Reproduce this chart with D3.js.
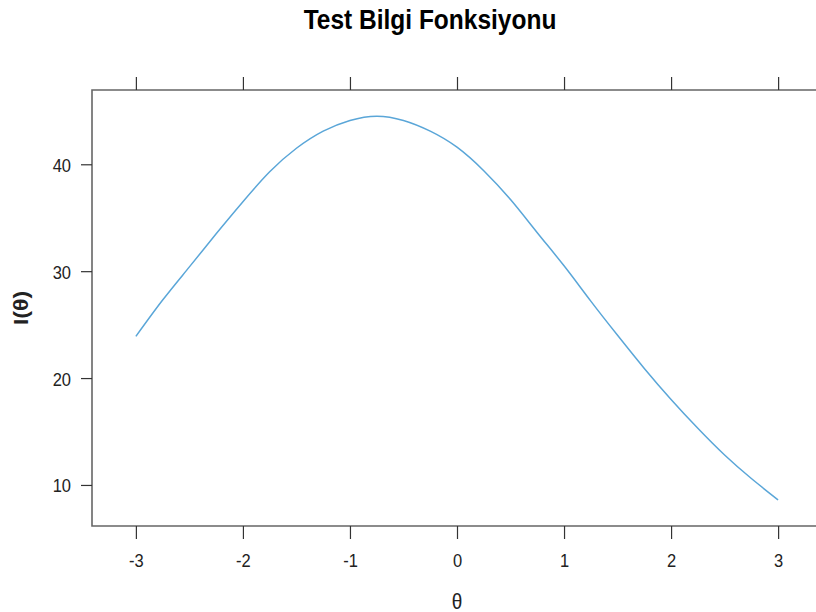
<!DOCTYPE html>
<html>
<head>
<meta charset="utf-8">
<script src="https://cdn.jsdelivr.net/npm/d3@7"></script>
<style>
  html, body { margin: 0; padding: 0; background: #fff; }
  svg { display: block; font-family: "Liberation Sans", Arial, sans-serif; }
</style>
</head>
<body>
<svg id="chart" width="816" height="612"></svg>
<script>
// ---- data ----
const theta = [-3, -2.75, -2.5, -2.25, -2, -1.75, -1.5, -1.25, -1, -0.75, -0.5, -0.25,
               0, 0.25, 0.5, 0.75, 1, 1.25, 1.5, 1.75, 2, 2.25, 2.5, 2.75, 3];
const info  = [23.9, 27.3, 30.4, 33.5, 36.5, 39.3, 41.5, 43.1, 44.1, 44.5, 44.1, 43.1,
               41.6, 39.4, 36.7, 33.6, 30.5, 27.2, 24.0, 20.9, 18.0, 15.3, 12.8, 10.6, 8.6];
const xTicks = [-3, -2, -1, 0, 1, 2, 3];
const yTicks = [10, 20, 30, 40];
const titleText = "Test Bilgi Fonksiyonu";
const xLabel = "θ";
const yLabel = "I(θ)";

// ---- layout ----
const L = 92, R = 822, T = 90, B = 526;
const svg = d3.select("#chart");

const x = d3.scaleLinear().domain([-3.41, 3.41]).range([L, R]);
const y = d3.scaleLinear().domain([6.16, 46.95]).range([B, T]);

const tickColor = "#333";
const boxColor = "#666";
const textStretch = 1.15;
const fmt = d => String(d);

// box (left, top, bottom; right side falls outside the frame)
svg.append("path")
  .attr("d", `M${R},${T}H${L}V${B}H${R}`)
  .attr("fill", "none")
  .attr("stroke", boxColor)
  .attr("stroke-width", 1.6);

// bottom axis
const gx = svg.append("g").attr("transform", `translate(0,${B})`)
  .call(d3.axisBottom(x).tickValues(xTicks).tickSize(13).tickFormat(fmt));
gx.select(".domain").remove();
gx.selectAll("line").attr("stroke", tickColor).attr("stroke-width", 1.2);
gx.selectAll("text")
  .attr("y", 0).attr("dy", 0)
  .attr("transform", `translate(0,41) scale(1,${textStretch})`)
  .attr("font-size", 16.5).attr("fill", "#222")
  .attr("font-family", "Liberation Sans, Arial, sans-serif");

// top axis (ticks only)
const gt = svg.append("g").attr("transform", `translate(0,${T})`)
  .call(d3.axisTop(x).tickValues(xTicks).tickSize(13).tickFormat(""));
gt.select(".domain").remove();
gt.selectAll("line").attr("stroke", tickColor).attr("stroke-width", 1.2);

// left axis
const gy = svg.append("g").attr("transform", `translate(${L},0)`)
  .call(d3.axisLeft(y).tickValues(yTicks).tickSize(11).tickFormat(fmt));
gy.select(".domain").remove();
gy.selectAll("line").attr("stroke", tickColor).attr("stroke-width", 1.2);
gy.selectAll("text")
  .attr("x", 0).attr("dy", 0)
  .attr("transform", `translate(-21,7) scale(1,${textStretch})`)
  .attr("font-size", 16.5).attr("fill", "#222")
  .attr("font-family", "Liberation Sans, Arial, sans-serif");

// curve
const line = d3.line()
  .x((d, i) => x(theta[i]))
  .y(d => y(d))
  .curve(d3.curveNatural);
svg.append("path")
  .datum(info)
  .attr("d", line)
  .attr("fill", "none")
  .attr("stroke", "#5aa6d8")
  .attr("stroke-width", 1.5);

// title
svg.append("text")
  .attr("transform", `translate(430,29) scale(1,1.1)`)
  .attr("text-anchor", "middle")
  .attr("font-size", 24.5)
  .attr("font-weight", "bold")
  .attr("fill", "#000")
  .text(titleText);

// x label
svg.append("text")
  .attr("transform", `translate(${(L + R) / 2},609) scale(1,1.15)`)
  .attr("text-anchor", "middle")
  .attr("font-size", 19)
  .attr("fill", "#222")
  .text(xLabel);

// y label
svg.append("text")
  .attr("transform", `translate(28,${(T + B) / 2}) rotate(-90) scale(1.15,1)`)
  .attr("text-anchor", "middle")
  .attr("font-size", 20)
  .attr("font-weight", "bold")
  .attr("fill", "#222")
  .text(yLabel);
</script>
</body>
</html>
